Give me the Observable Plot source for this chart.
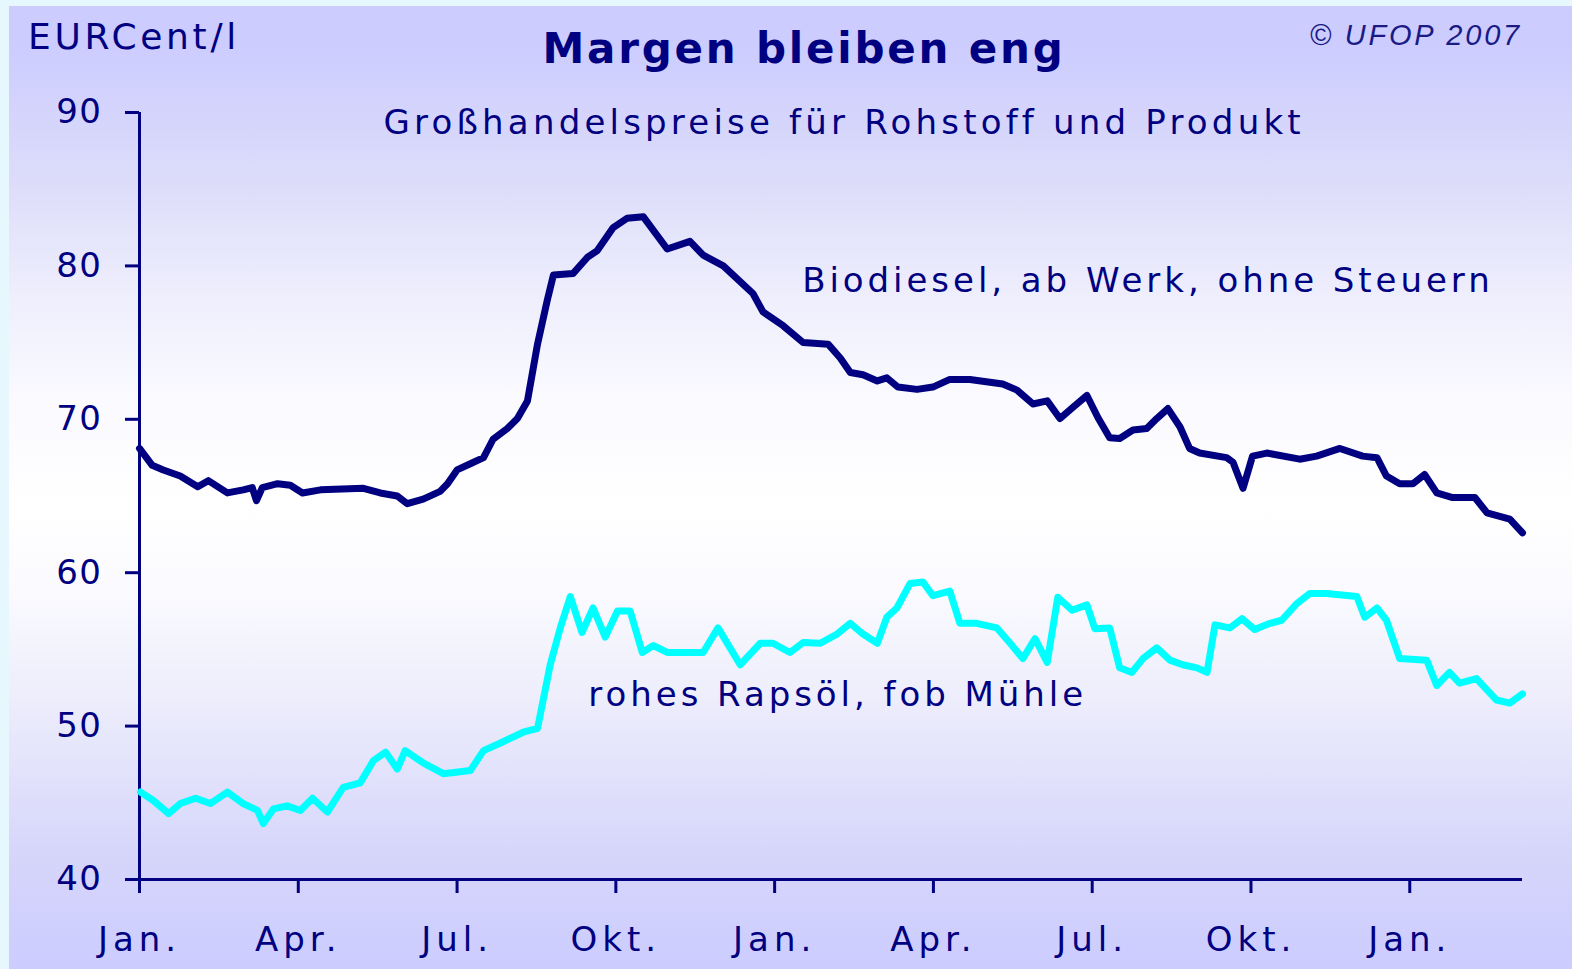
<!DOCTYPE html>
<html><head><meta charset="utf-8">
<script src="https://cdn.jsdelivr.net/npm/d3@7"></script>
<script src="https://cdn.jsdelivr.net/npm/@observablehq/plot@0.6"></script>
<style>
html,body{margin:0;padding:0;background:#e6f7fe;}
#wrap{position:relative;width:1572px;height:969px;overflow:hidden;}
#panel{position:absolute;left:9px;top:6px;right:0;bottom:0;
  background:linear-gradient(to bottom,#ccccff 0%,#ccccff 4%,#dcdcfa 18%,#eeeefd 30%,#fafaff 41%,#ffffff 52%,#fbfbff 60%,#ededfc 72%,#d6d6fb 88%,#ccccff 100%);}
#chart{position:absolute;left:0;top:0;}
.t{position:absolute;color:#000080;font-family:"DejaVu Sans";white-space:nowrap;line-height:1;}
#unit{left:28px;top:19px;font-size:36px;letter-spacing:3.7px;}
#title{left:804px;top:28px;font-size:42px;font-weight:bold;letter-spacing:2.8px;transform:translateX(-50%);}
#copy{right:50px;top:21px;font-size:29px;font-style:italic;font-family:"Liberation Sans";letter-spacing:2.8px;color:#1a1a85;}
#chart g[aria-label="x-axis tick label"] text{letter-spacing:5px;}
#chart g[aria-label="y-axis tick label"] text{letter-spacing:1.5px;}
#chart g[aria-label="text"] text{letter-spacing:3.95px;}
#chart g[aria-label="text"] text:nth-child(1){letter-spacing:4.2px;}
</style></head>
<body>
<div id="wrap">
  <div id="panel"></div>
  <div id="chart"></div>
  <div class="t" id="unit">EURCent/l</div>
  <div class="t" id="title">Margen bleiben eng</div>
  <div class="t" id="copy">© UFOP 2007</div>
</div>
<script>
// months since Jan. 2005 (fractional) and prices in EURCent/l
const bioMonth = [0.00,0.24,0.45,0.77,1.10,1.30,1.66,1.96,2.13,2.21,2.32,2.61,2.85,3.08,3.42,4.23,4.55,4.87,5.06,5.36,5.68,5.82,6.00,6.25,6.50,6.68,6.95,7.14,7.33,7.52,7.70,7.82,8.19,8.46,8.65,8.95,9.21,9.52,9.97,10.40,10.65,11.03,11.59,11.78,12.16,12.54,13.01,13.24,13.43,13.67,13.94,14.12,14.33,14.69,14.99,15.31,15.69,16.31,16.58,16.88,17.15,17.39,17.64,17.90,18.11,18.33,18.52,18.77,19.03,19.22,19.43,19.66,19.84,20.03,20.54,20.66,20.85,21.03,21.30,21.92,22.24,22.68,23.11,23.38,23.56,23.81,24.06,24.28,24.51,24.81,25.23,25.46,25.89,26.13];
const bioValue = [68.1,67.0,66.7,66.3,65.6,66.0,65.2,65.4,65.55,64.7,65.55,65.8,65.7,65.2,65.4,65.5,65.2,65.0,64.5,64.8,65.3,65.8,66.7,67.1,67.5,68.7,69.4,70.05,71.2,74.9,77.7,79.4,79.5,80.55,81.0,82.5,83.1,83.2,81.1,81.6,80.7,80.0,78.2,77.0,76.1,75.0,74.9,74.0,73.05,72.9,72.5,72.7,72.1,71.95,72.1,72.6,72.6,72.3,71.9,71.0,71.2,70.05,70.8,71.55,70.1,68.8,68.75,69.3,69.4,70.05,70.7,69.5,68.1,67.8,67.5,67.2,65.5,67.6,67.8,67.4,67.6,68.1,67.6,67.5,66.3,65.8,65.8,66.4,65.2,64.9,64.9,63.9,63.5,62.6];

const oilMonth = [0.02,0.26,0.55,0.77,1.06,1.34,1.66,1.96,2.23,2.34,2.53,2.79,3.04,3.27,3.55,3.85,4.17,4.42,4.65,4.87,5.02,5.36,5.74,6.25,6.50,6.82,7.25,7.52,7.76,7.95,8.14,8.36,8.57,8.80,9.03,9.27,9.50,9.71,9.97,10.65,10.93,11.35,11.73,11.97,12.29,12.54,12.86,13.18,13.43,13.67,13.94,14.12,14.31,14.56,14.80,14.99,15.31,15.50,15.82,16.20,16.45,16.69,16.92,17.15,17.35,17.62,17.90,18.05,18.33,18.52,18.75,18.96,19.22,19.47,19.71,19.98,20.17,20.32,20.60,20.83,21.07,21.36,21.58,21.87,22.11,22.43,23.00,23.15,23.38,23.56,23.81,24.32,24.51,24.75,24.94,25.26,25.64,25.89,26.13];
const oilValue = [45.7,45.15,44.3,44.95,45.3,44.95,45.7,44.95,44.5,43.65,44.6,44.8,44.5,45.3,44.4,46.0,46.3,47.75,48.3,47.2,48.4,47.6,46.9,47.1,48.4,48.9,49.6,49.85,54.0,56.4,58.45,56.1,57.7,55.8,57.5,57.5,54.8,55.25,54.8,54.8,56.4,54.0,55.4,55.4,54.8,55.45,55.4,56.0,56.7,56.0,55.4,57.1,57.7,59.3,59.4,58.5,58.8,56.7,56.7,56.4,55.4,54.4,55.7,54.15,58.4,57.55,57.9,56.35,56.4,53.8,53.5,54.4,55.1,54.3,54.0,53.8,53.5,56.6,56.4,57.0,56.3,56.7,56.9,58.0,58.65,58.65,58.45,57.1,57.7,56.9,54.4,54.3,52.65,53.5,52.8,53.1,51.7,51.5,52.1];

const xTicks = [0,3,6,9,12,15,18,21,24];
const xTickLabels = ["Jan.","Apr.","Jul.","Okt.","Jan.","Apr.","Jul.","Okt.","Jan."];
const yTicks = [40,50,60,70,80,90];

// annotations (text + data anchor)
const noteText = ["Großhandelspreise für Rohstoff und Produkt","Biodiesel, ab Werk, ohne Steuern","rohes Rapsöl, fob Mühle"];
const noteMonth = [4.61,12.52,8.48];
const noteValue = [88.63,78.27,51.34];

const bio = bioMonth.map((m,i)=>({m, v: bioValue[i]}));
const oil = oilMonth.map((m,i)=>({m, v: oilValue[i]}));
const notes = noteText.map((t,i)=>({t, m: noteMonth[i], v: noteValue[i]}));

const navy = "#000080";
const chart = Plot.plot({
  width: 1572, height: 969,
  marginLeft: 139, marginRight: 50, marginTop: 112, marginBottom: 90,
  style: {background: "transparent", fontFamily: "DejaVu Sans", color: navy, overflow: "visible"},
  x: {type: "linear", domain: [0, 26.13]},
  y: {domain: [40, 90]},
  marks: [
    Plot.axisY(yTicks, {tickSize: 14, tickPadding: 23, fontSize: 34, stroke: navy, strokeWidth: 3, fill: navy, label: null}),
    Plot.axisX(xTicks, {tickSize: 14, tickPadding: 33, fontSize: 34, stroke: navy, strokeWidth: 3, fill: navy, label: null,
      tickFormat: d => xTickLabels[xTicks.indexOf(d)]}),
    Plot.ruleX([0], {stroke: navy, strokeWidth: 3}),
    Plot.ruleY([40], {stroke: navy, strokeWidth: 3}),
    Plot.line(oil, {x: "m", y: "v", stroke: "#00ffff", strokeWidth: 7, strokeLinejoin: "round"}),
    Plot.line(bio, {x: "m", y: "v", stroke: navy, strokeWidth: 7, strokeLinejoin: "round"}),
    Plot.text(notes, {x: "m", y: "v", text: "t", textAnchor: "start", lineAnchor: "bottom", fontSize: 34, fill: navy})
  ]
});
document.getElementById("chart").appendChild(chart);
</script>
</body></html>
